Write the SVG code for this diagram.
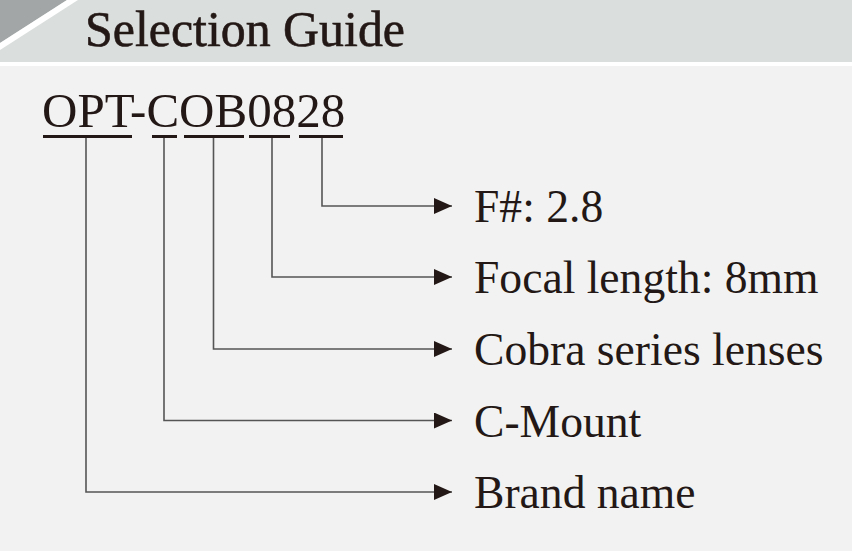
<svg xmlns="http://www.w3.org/2000/svg" width="852" height="551" viewBox="0 0 852 551">
<defs>
<style>
text{font-family:"Liberation Serif","Times New Roman",serif;fill:#231815}
.lbl{font-size:45.6px}
.ul{stroke:#231815;stroke-width:3}
.c{fill:none;stroke:#555;stroke-width:1.6}
</style>
<marker id="ah" markerWidth="18" markerHeight="16" refX="18" refY="8" orient="auto" markerUnits="userSpaceOnUse">
<path d="M0,0 L18,8 L0,16 Z" fill="#231815"/>
</marker>
</defs>
<rect x="0" y="0" width="852" height="551" fill="#f2f2f2"/>
<g id="header">
<rect x="0" y="0" width="852" height="62" fill="#dadedd"/>
<rect x="0" y="62" width="852" height="4" fill="#ffffff"/>
<polygon points="0,0 67,0 0,43" fill="#a3a6a6"/>
<polygon points="67,0 78,0 0,50 0,43" fill="#ffffff"/>
<text x="85" y="46" font-family="Liberation Serif, serif" font-size="50" stroke="#231815" stroke-width="0.6" textLength="320" lengthAdjust="spacingAndGlyphs">Selection Guide</text>
</g>
<g id="code">
<text x="42" y="127" font-size="49">OPT-COB0828</text>
<line class="ul" x1="43" y1="136.5" x2="132" y2="136.5"/>
<line class="ul" x1="152" y1="136.5" x2="177" y2="136.5"/>
<line class="ul" x1="184" y1="136.5" x2="244" y2="136.5"/>
<line class="ul" x1="249" y1="136.5" x2="290" y2="136.5"/>
<line class="ul" x1="299" y1="136.5" x2="343" y2="136.5"/>
</g>
<g id="connectors">
<path class="c" d="M322,138 V206 H452" marker-end="url(#ah)"/>
<path class="c" d="M272,138 V277 H452" marker-end="url(#ah)"/>
<path class="c" d="M213.5,138 V349 H452" marker-end="url(#ah)"/>
<path class="c" d="M164,138 V420.5 H452" marker-end="url(#ah)"/>
<path class="c" d="M86,138 V492 H452" marker-end="url(#ah)"/>
</g>
<g id="label-fnum"><text class="lbl" x="474" y="222">F#: 2.8</text></g>
<g id="label-focal"><text class="lbl" x="474" y="293">Focal length: 8mm</text></g>
<g id="label-series"><text class="lbl" x="474" y="365">Cobra series lenses</text></g>
<g id="label-mount"><text class="lbl" x="474" y="436.5">C-Mount</text></g>
<g id="label-brand"><text class="lbl" x="474" y="508">Brand name</text></g>
</svg>
